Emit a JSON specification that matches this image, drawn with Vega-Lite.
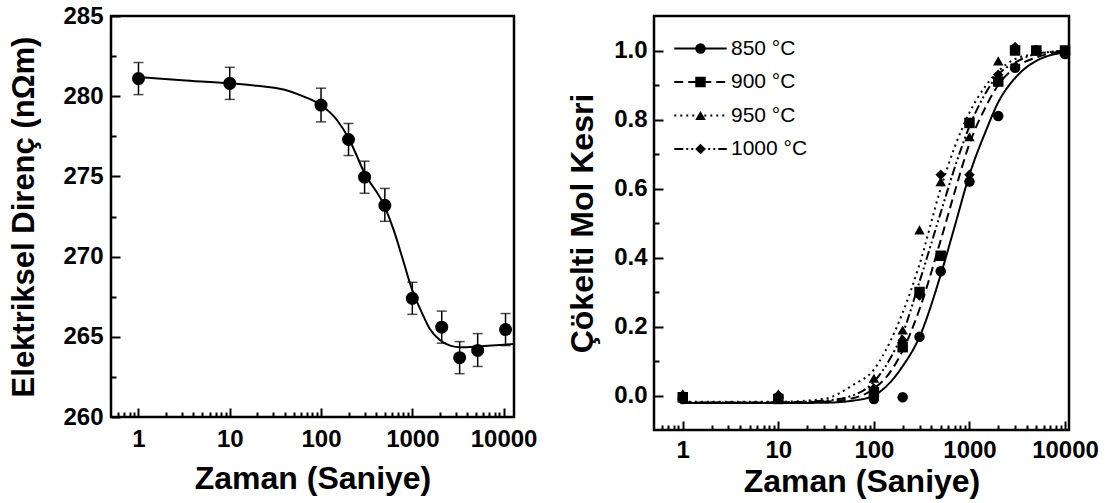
{
  "$schema": "https://vega.github.io/schema/vega-lite/v6.json",
  "padding": {"left": 7, "top": 2, "right": 0, "bottom": 0},
  "bounds": "flush",
  "spacing": 140,
  "background": "white",
  "resolve": {"scale": {"shape": "independent", "strokeDash": "independent"}, "legend": {"shape": "independent", "strokeDash": "independent"}},
  "config": {
    "font": "Liberation Sans",
    "view": {"stroke": "black", "strokeWidth": 2.5},
    "axis": {
      "domain": false, "grid": false,
      "labelFont": "Liberation Sans", "labelFontWeight": "bold", "labelFontSize": 24, "labelColor": "black",
      "titleFont": "Liberation Sans", "titleFontWeight": "bold", "titleColor": "black",
      "tickColor": "black", "tickWidth": 2, "labelOverlap": false, "labelFlush": false
    }
  },
  "datasets": {
    "left_pts": [
      {"t": 1, "r": 281.1, "lo": 280.1, "hi": 282.1},
      {"t": 10, "r": 280.8, "lo": 279.8, "hi": 281.8},
      {"t": 100, "r": 279.45, "lo": 278.4, "hi": 280.5},
      {"t": 200, "r": 277.3, "lo": 276.3, "hi": 278.3},
      {"t": 300, "r": 274.95, "lo": 273.95, "hi": 275.95},
      {"t": 500, "r": 273.2, "lo": 272.2, "hi": 274.25},
      {"t": 1000, "r": 267.4, "lo": 266.4, "hi": 268.4},
      {"t": 2100, "r": 265.6, "lo": 264.6, "hi": 266.6},
      {"t": 3300, "r": 263.7, "lo": 262.7, "hi": 264.7},
      {"t": 5200, "r": 264.15, "lo": 263.15, "hi": 265.2},
      {"t": 10500, "r": 265.45, "lo": 264.45, "hi": 266.45}
    ],
    "left_fit": [
      {"t": 1, "r": 281.2},
      {"t": 3, "r": 281.0},
      {"t": 10, "r": 280.8},
      {"t": 20, "r": 280.65},
      {"t": 40, "r": 280.4},
      {"t": 60, "r": 280.05},
      {"t": 100, "r": 279.45},
      {"t": 150, "r": 278.5},
      {"t": 200, "r": 277.4},
      {"t": 300, "r": 275.2},
      {"t": 500, "r": 273.1},
      {"t": 630, "r": 271.6},
      {"t": 780, "r": 269.9},
      {"t": 1000, "r": 267.9},
      {"t": 1250, "r": 266.6},
      {"t": 1550, "r": 265.5},
      {"t": 2000, "r": 264.8},
      {"t": 2600, "r": 264.45},
      {"t": 3400, "r": 264.35},
      {"t": 5300, "r": 264.4},
      {"t": 12800, "r": 264.55}
    ],
    "right_pts": [
      {"temp": "850 °C", "t": 1, "f": -0.01},
      {"temp": "850 °C", "t": 10, "f": -0.005},
      {"temp": "850 °C", "t": 100, "f": -0.01},
      {"temp": "850 °C", "t": 200, "f": -0.005},
      {"temp": "850 °C", "t": 300, "f": 0.17},
      {"temp": "850 °C", "t": 500, "f": 0.36},
      {"temp": "850 °C", "t": 1000, "f": 0.62},
      {"temp": "850 °C", "t": 2000, "f": 0.81},
      {"temp": "850 °C", "t": 3000, "f": 0.95},
      {"temp": "850 °C", "t": 5000, "f": 1.0},
      {"temp": "850 °C", "t": 10000, "f": 0.99},
      {"temp": "900 °C", "t": 1, "f": -0.005},
      {"temp": "900 °C", "t": 10, "f": -0.01},
      {"temp": "900 °C", "t": 100, "f": 0.01},
      {"temp": "900 °C", "t": 200, "f": 0.14},
      {"temp": "900 °C", "t": 300, "f": 0.3},
      {"temp": "900 °C", "t": 500, "f": 0.405},
      {"temp": "900 °C", "t": 1000, "f": 0.79},
      {"temp": "900 °C", "t": 2000, "f": 0.91},
      {"temp": "900 °C", "t": 3000, "f": 1.0},
      {"temp": "900 °C", "t": 5000, "f": 1.0},
      {"temp": "900 °C", "t": 10000, "f": 1.0},
      {"temp": "950 °C", "t": 1, "f": 0.005},
      {"temp": "950 °C", "t": 10, "f": 0.005},
      {"temp": "950 °C", "t": 100, "f": 0.05},
      {"temp": "950 °C", "t": 200, "f": 0.19},
      {"temp": "950 °C", "t": 300, "f": 0.48},
      {"temp": "950 °C", "t": 500, "f": 0.62},
      {"temp": "950 °C", "t": 1000, "f": 0.75},
      {"temp": "950 °C", "t": 2000, "f": 0.97},
      {"temp": "950 °C", "t": 3000, "f": 1.0},
      {"temp": "950 °C", "t": 5000, "f": 1.0},
      {"temp": "950 °C", "t": 10000, "f": 1.0},
      {"temp": "1000 °C", "t": 1, "f": 0.0},
      {"temp": "1000 °C", "t": 10, "f": 0.0},
      {"temp": "1000 °C", "t": 100, "f": 0.02},
      {"temp": "1000 °C", "t": 200, "f": 0.16},
      {"temp": "1000 °C", "t": 300, "f": 0.29},
      {"temp": "1000 °C", "t": 500, "f": 0.64},
      {"temp": "1000 °C", "t": 1000, "f": 0.64},
      {"temp": "1000 °C", "t": 2000, "f": 0.93},
      {"temp": "1000 °C", "t": 3000, "f": 1.01},
      {"temp": "1000 °C", "t": 5000, "f": 1.0},
      {"temp": "1000 °C", "t": 10000, "f": 1.0}
    ],
    "right_fit": [
      {"temp": "850 °C", "t": 1, "f": -0.022},
      {"temp": "850 °C", "t": 10, "f": -0.022},
      {"temp": "850 °C", "t": 30, "f": -0.021},
      {"temp": "850 °C", "t": 60, "f": -0.015},
      {"temp": "850 °C", "t": 100, "f": 0.0},
      {"temp": "850 °C", "t": 150, "f": 0.04},
      {"temp": "850 °C", "t": 200, "f": 0.085},
      {"temp": "850 °C", "t": 300, "f": 0.17},
      {"temp": "850 °C", "t": 500, "f": 0.35},
      {"temp": "850 °C", "t": 700, "f": 0.49},
      {"temp": "850 °C", "t": 1000, "f": 0.64},
      {"temp": "850 °C", "t": 1500, "f": 0.77},
      {"temp": "850 °C", "t": 2000, "f": 0.85},
      {"temp": "850 °C", "t": 3000, "f": 0.92},
      {"temp": "850 °C", "t": 5000, "f": 0.97},
      {"temp": "850 °C", "t": 11000, "f": 0.996},
      {"temp": "900 °C", "t": 1, "f": -0.02},
      {"temp": "900 °C", "t": 10, "f": -0.02},
      {"temp": "900 °C", "t": 30, "f": -0.018},
      {"temp": "900 °C", "t": 60, "f": -0.008},
      {"temp": "900 °C", "t": 100, "f": 0.02},
      {"temp": "900 °C", "t": 150, "f": 0.07},
      {"temp": "900 °C", "t": 200, "f": 0.13},
      {"temp": "900 °C", "t": 300, "f": 0.25},
      {"temp": "900 °C", "t": 500, "f": 0.45},
      {"temp": "900 °C", "t": 700, "f": 0.59},
      {"temp": "900 °C", "t": 1000, "f": 0.73},
      {"temp": "900 °C", "t": 1500, "f": 0.84},
      {"temp": "900 °C", "t": 2000, "f": 0.9},
      {"temp": "900 °C", "t": 3000, "f": 0.95},
      {"temp": "900 °C", "t": 5000, "f": 0.98},
      {"temp": "900 °C", "t": 11000, "f": 1.0},
      {"temp": "950 °C", "t": 1, "f": -0.018},
      {"temp": "950 °C", "t": 10, "f": -0.018},
      {"temp": "950 °C", "t": 30, "f": -0.01},
      {"temp": "950 °C", "t": 60, "f": 0.03},
      {"temp": "950 °C", "t": 100, "f": 0.075},
      {"temp": "950 °C", "t": 150, "f": 0.16},
      {"temp": "950 °C", "t": 200, "f": 0.24},
      {"temp": "950 °C", "t": 300, "f": 0.38},
      {"temp": "950 °C", "t": 500, "f": 0.6},
      {"temp": "950 °C", "t": 700, "f": 0.72},
      {"temp": "950 °C", "t": 1000, "f": 0.82},
      {"temp": "950 °C", "t": 1500, "f": 0.9},
      {"temp": "950 °C", "t": 2000, "f": 0.94},
      {"temp": "950 °C", "t": 3000, "f": 0.975},
      {"temp": "950 °C", "t": 5000, "f": 0.99},
      {"temp": "950 °C", "t": 11000, "f": 1.0},
      {"temp": "1000 °C", "t": 1, "f": -0.02},
      {"temp": "1000 °C", "t": 10, "f": -0.02},
      {"temp": "1000 °C", "t": 30, "f": -0.015},
      {"temp": "1000 °C", "t": 60, "f": 0.0},
      {"temp": "1000 °C", "t": 100, "f": 0.04},
      {"temp": "1000 °C", "t": 150, "f": 0.11},
      {"temp": "1000 °C", "t": 200, "f": 0.18},
      {"temp": "1000 °C", "t": 300, "f": 0.33},
      {"temp": "1000 °C", "t": 500, "f": 0.53},
      {"temp": "1000 °C", "t": 700, "f": 0.66},
      {"temp": "1000 °C", "t": 1000, "f": 0.78},
      {"temp": "1000 °C", "t": 1500, "f": 0.88},
      {"temp": "1000 °C", "t": 2000, "f": 0.93},
      {"temp": "1000 °C", "t": 3000, "f": 0.965},
      {"temp": "1000 °C", "t": 5000, "f": 0.99},
      {"temp": "1000 °C", "t": 11000, "f": 1.0}
    ]
  },
  "hconcat": [
    {
      "width": 403,
      "height": 401,
      "encoding": {
        "x": {
          "field": "t", "type": "quantitative",
          "scale": {"type": "log", "domain": [0.5, 13000], "nice": false},
          "axis": {
            "title": "Zaman (Saniye)", "titleFontSize": 32, "titlePadding": 8,
            "values": [0.6, 0.7, 0.8, 0.9, 1, 2, 3, 4, 5, 6, 7, 8, 9, 10, 20, 30, 40, 50, 60, 70, 80, 90, 100, 200, 300, 400, 500, 600, 700, 800, 900, 1000, 2000, 3000, 4000, 5000, 6000, 7000, 8000, 9000, 10000],
            "format": "d",
            "labelExpr": "indexof([1,10,100,1000,10000], datum.value) >= 0 ? datum.label : ''",
            "tickSize": {"condition": {"test": "indexof([1,10,100,1000,10000], datum.value) >= 0", "value": -9}, "value": -5},
            "labelPadding": 19
          }
        },
        "y": {
          "field": "r", "type": "quantitative",
          "scale": {"domain": [260, 285], "nice": false, "zero": false},
          "axis": {
            "title": "Elektriksel Direnç (nΩm)", "titleFontSize": 31, "titlePadding": 22,
            "values": [260, 262.5, 265, 267.5, 270, 272.5, 275, 277.5, 280, 282.5, 285],
            "format": "d",
            "labelExpr": "datum.value % 5 === 0 ? datum.label : ''",
            "tickSize": {"condition": {"test": "datum.value % 5 === 0", "value": -9}, "value": -5},
            "labelPadding": 17
          }
        }
      },
      "layer": [
        {
          "data": {"name": "left_pts"},
          "mark": {"type": "errorbar", "color": "black", "ticks": {"size": 10, "thickness": 1.5, "color": "black"}, "rule": {"strokeWidth": 1.5, "color": "black"}},
          "encoding": {
            "y": {
              "field": "lo", "type": "quantitative",
              "scale": {"domain": [260, 285], "nice": false, "zero": false},
              "axis": {
                "title": "Elektriksel Direnç (nΩm)", "titleFontSize": 31, "titlePadding": 22,
                "values": [260, 262.5, 265, 267.5, 270, 272.5, 275, 277.5, 280, 282.5, 285],
                "format": "d",
                "labelExpr": "datum.value % 5 === 0 ? datum.label : ''",
                "tickSize": {"condition": {"test": "datum.value % 5 === 0", "value": -9}, "value": -5},
                "labelPadding": 17
              }
            },
            "y2": {"field": "hi"}
          }
        },
        {
          "data": {"name": "left_fit"},
          "mark": {"type": "line", "color": "black", "strokeWidth": 2, "interpolate": "monotone"}
        },
        {
          "data": {"name": "left_pts"},
          "mark": {"type": "point", "filled": true, "color": "black", "size": 170, "opacity": 1}
        }
      ]
    },
    {
      "width": 415,
      "height": 414,
      "encoding": {
        "x": {
          "field": "t", "type": "quantitative",
          "scale": {"type": "log", "domain": [0.5, 11000], "nice": false},
          "axis": {
            "title": "Zaman (Saniye)", "titleFontSize": 32, "titlePadding": 0,
            "values": [0.6, 0.7, 0.8, 0.9, 1, 2, 3, 4, 5, 6, 7, 8, 9, 10, 20, 30, 40, 50, 60, 70, 80, 90, 100, 200, 300, 400, 500, 600, 700, 800, 900, 1000, 2000, 3000, 4000, 5000, 6000, 7000, 8000, 9000, 10000],
            "format": "d",
            "labelExpr": "indexof([1,10,100,1000,10000], datum.value) >= 0 ? datum.label : ''",
            "tickSize": {"condition": {"test": "indexof([1,10,100,1000,10000], datum.value) >= 0", "value": -9}, "value": -5},
            "labelPadding": 17
          }
        },
        "y": {
          "field": "f", "type": "quantitative",
          "scale": {"domain": [-0.1, 1.1], "nice": false, "zero": false},
          "axis": {
            "title": "Çökelti Mol Kesri", "titleFontSize": 32, "titlePadding": 14,
            "values": [0, 0.1, 0.2, 0.3, 0.4, 0.5, 0.6, 0.7, 0.8, 0.9, 1.0],
            "format": ".1f",
            "labelExpr": "indexof([0,0.2,0.4,0.6,0.8,1], datum.value) >= 0 ? datum.label : ''",
            "tickSize": {"condition": {"test": "indexof([0,0.2,0.4,0.6,0.8,1], datum.value) >= 0", "value": -9}, "value": -5},
            "labelPadding": 16
          }
        }
      },
      "layer": [
        {
          "data": {"name": "right_fit"},
          "mark": {"type": "line", "color": "black", "strokeWidth": 2, "interpolate": "monotone"},
          "encoding": {
            "strokeDash": {
              "field": "temp", "type": "nominal",
              "scale": {"domain": ["850 °C", "900 °C", "950 °C", "1000 °C"], "range": [[1, 0], [9, 5], [2, 4], [9, 3, 2, 3, 2, 3]]},
              "legend": {
                "title": null, "orient": "none", "legendX": 36, "legendY": 22, "padding": 0,
                "symbolType": "M-5,0H5", "symbolSize": 110, "symbolStrokeWidth": 2, "symbolStrokeColor": "black",
                "labelFontSize": 21, "labelFont": "Liberation Sans", "labelColor": "black", "labelOffset": 20, "rowPadding": 11.5
              }
            }
          }
        },
        {
          "data": {"name": "right_pts"},
          "mark": {"type": "point", "filled": true, "color": "black", "size": 110, "opacity": 1},
          "encoding": {
            "shape": {
              "field": "temp", "type": "nominal",
              "scale": {"domain": ["850 °C", "900 °C", "950 °C", "1000 °C"], "range": ["circle", "square", "triangle-up", "diamond"]},
              "legend": {
                "title": null, "orient": "top-left", "offset": 22, "padding": 0, "symbolOffset": 14,
                "symbolSize": 110, "symbolStrokeWidth": 2, "symbolFillColor": "black", "symbolStrokeColor": "black",
                "labelFontSize": 21, "labelFont": "Liberation Sans", "labelExpr": "''", "rowPadding": 11.5
              }
            }
          }
        }
      ]
    }
  ]
}
